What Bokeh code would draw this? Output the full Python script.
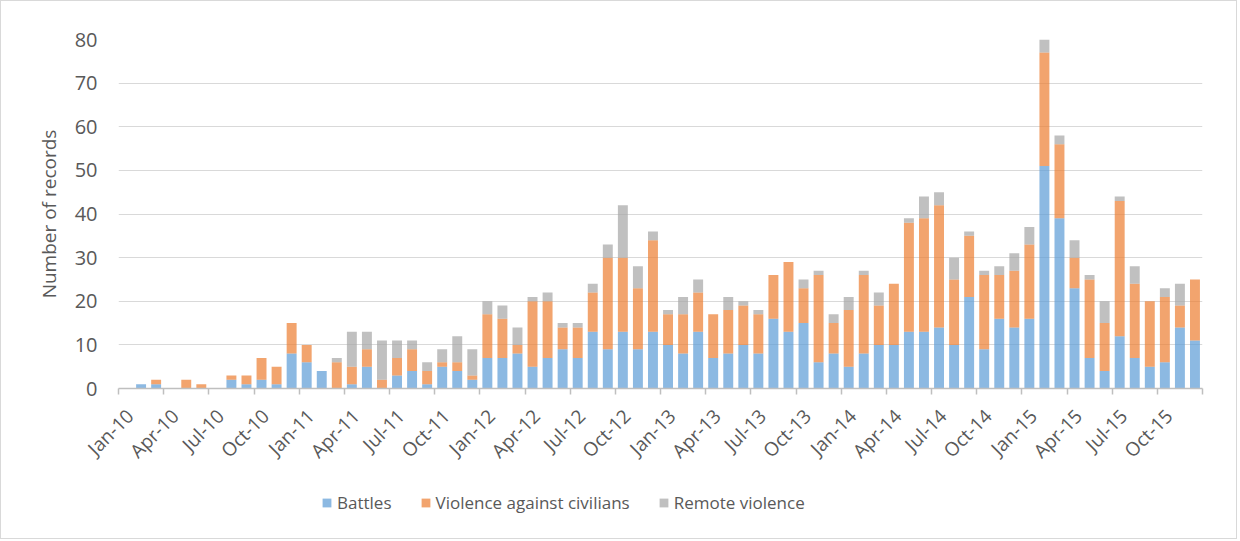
import math
from bokeh.plotting import figure
from bokeh.layouts import column
from bokeh.models import ColumnDataSource, Range1d, FixedTicker, Legend, LegendItem
from bokeh.embed import file_html
from bokeh.resources import INLINE

# ---- data (monthly counts, Jan-10 .. Dec-15) ----
battles = [0, 1, 1, 0, 0, 0, 0, 2, 1, 2, 1, 8,
           6, 4, 0, 1, 5, 0, 3, 4, 1, 5, 4, 2,
           7, 7, 8, 5, 7, 9, 7, 13, 9, 13, 9, 13,
           10, 8, 13, 7, 8, 10, 8, 16, 13, 15, 6, 8,
           5, 8, 10, 10, 13, 13, 14, 10, 21, 9, 16, 14,
           16, 51, 39, 23, 7, 4, 12, 7, 5, 6, 14, 11]
violence_civilians = [0, 0, 1, 0, 2, 1, 0, 1, 2, 5, 4, 7,
                      4, 0, 6, 4, 4, 2, 4, 5, 3, 1, 2, 1,
                      10, 9, 2, 15, 13, 5, 7, 9, 21, 17, 14, 21,
                      7, 9, 9, 10, 10, 9, 9, 10, 16, 8, 20, 7,
                      13, 18, 9, 14, 25, 26, 28, 15, 14, 17, 10, 13,
                      17, 26, 17, 7, 18, 11, 31, 17, 15, 15, 5, 14]
remote_violence = [0, 0, 0, 0, 0, 0, 0, 0, 0, 0, 0, 0,
                   0, 0, 1, 8, 4, 9, 4, 2, 2, 3, 6, 6,
                   3, 3, 4, 1, 2, 1, 1, 2, 3, 12, 5, 2,
                   1, 4, 3, 0, 3, 1, 1, 0, 0, 2, 1, 2,
                   3, 1, 3, 0, 1, 5, 3, 5, 1, 1, 2, 4,
                   4, 3, 2, 4, 1, 5, 1, 4, 0, 2, 5, 0]
tick_labels = ["Jan-10", "Apr-10", "Jul-10", "Oct-10",
               "Jan-11", "Apr-11", "Jul-11", "Oct-11",
               "Jan-12", "Apr-12", "Jul-12", "Oct-12",
               "Jan-13", "Apr-13", "Jul-13", "Oct-13",
               "Jan-14", "Apr-14", "Jul-14", "Oct-14",
               "Jan-15", "Apr-15", "Jul-15", "Oct-15"]
series_names = ["Battles", "Violence against civilians", "Remote violence"]
series_keys = ["battles", "civilians", "remote"]
colors = ["#5B9BD5", "#ED7D31", "#A5A5A5"]

n = len(battles)
month_idx = list(range(n))
source = ColumnDataSource(dict(x=month_idx, battles=battles,
                               civilians=violence_civilians, remote=remote_violence))

FONT = "Open Sans"
TXT = "#595959"

# ---------------- main chart ----------------
p = figure(width=1235, height=480,
           x_range=Range1d(-0.5, n - 0.5), y_range=Range1d(0, 80),
           output_backend="svg", toolbar_location=None,
           min_border_left=117, min_border_right=34,
           min_border_top=38, min_border_bottom=93)
p.outline_line_color = None
p.background_fill_color = "white"
p.border_fill_color = "white"

p.vbar_stack(series_keys, x="x", width=0.66, source=source,
             fill_color=colors, fill_alpha=0.7, line_color=None)

# y axis
p.yaxis.ticker = FixedTicker(ticks=list(range(0, 81, 10)))
p.yaxis.axis_line_color = None
p.yaxis.major_tick_line_color = None
p.yaxis.minor_tick_line_color = None
p.yaxis.major_tick_out = 0
p.yaxis.major_tick_in = 0
p.yaxis.major_label_standoff = 21
p.yaxis.major_label_text_font = FONT
p.yaxis.major_label_text_font_size = "20px"
p.yaxis.major_label_text_color = TXT
p.yaxis.axis_label = "Number of records"
p.yaxis.axis_label_text_font = FONT
p.yaxis.axis_label_text_font_size = "19px"
p.yaxis.axis_label_text_font_style = "normal"
p.yaxis.axis_label_text_color = TXT
p.yaxis.axis_label_standoff = 10

# x axis
label_pos = [i + 0.27 for i in range(0, n, 3)]
p.xaxis.ticker = FixedTicker(ticks=label_pos,
                             minor_ticks=[i - 0.5 for i in range(0, n + 1, 3)])
p.xaxis.major_label_overrides = {pos: lab for pos, lab in zip(label_pos, tick_labels)}
p.xaxis.major_label_orientation = math.pi / 4
p.xaxis.major_tick_line_color = None
p.xaxis.major_tick_out = 0
p.xaxis.major_tick_in = 0
p.xaxis.minor_tick_line_color = "#BFBFBF"
p.xaxis.minor_tick_line_width = 1.5
p.xaxis.minor_tick_out = 6
p.xaxis.minor_tick_in = 0
p.xaxis.axis_line_color = "#BFBFBF"
p.xaxis.axis_line_width = 1.5
p.xaxis.major_label_standoff = 18
p.xaxis.major_label_text_font = FONT
p.xaxis.major_label_text_font_size = "19px"
p.xaxis.major_label_text_color = TXT

p.xgrid.grid_line_color = None
p.ygrid.grid_line_color = "#D9D9D9"
p.ygrid.grid_line_width = 1.2

# ---------------- legend strip ----------------
nan = float("nan")
leg_src = ColumnDataSource(dict(x=[nan], battles=[nan], civilians=[nan], remote=[nan]))
q = figure(width=1235, height=57, x_range=Range1d(0, 1), y_range=Range1d(0, 1),
           output_backend="svg", toolbar_location=None,
           min_border_left=0, min_border_right=0, min_border_top=0, min_border_bottom=0)
q.axis.visible = False
q.grid.visible = False
q.outline_line_color = None
q.border_fill_color = "white"
leg_renderers = q.vbar_stack(series_keys, x="x", width=0.66, source=leg_src,
                             fill_color=colors, fill_alpha=0.7, line_color=None)
legend = Legend(items=[LegendItem(label=nm, renderers=[r]) for nm, r in zip(series_names, leg_renderers)],
                orientation="horizontal", location=(203, 24),
                glyph_width=11, glyph_height=11, label_standoff=5, spacing=28,
                padding=0, margin=0, border_line_color=None, background_fill_alpha=0,
                label_text_font=FONT, label_text_font_size="17px", label_text_color=TXT)
q.add_layout(legend, "center")

layout = column(p, q, spacing=0, styles={"border": "1px solid #D9D9D9"})

open("out.html", "w").write(file_html(layout, INLINE))
